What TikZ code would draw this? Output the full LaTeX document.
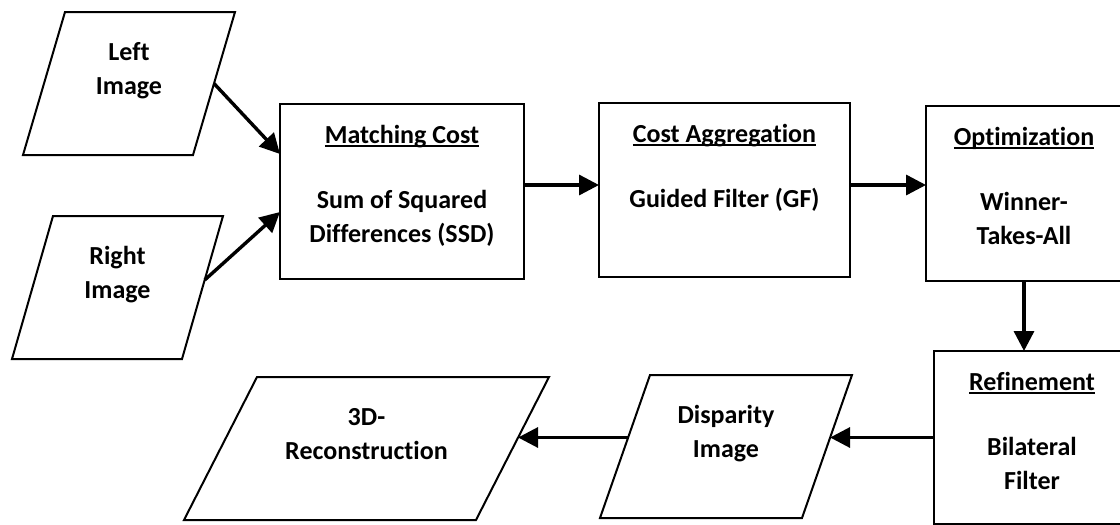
\documentclass[tikz,border=0pt]{standalone}
\usepackage{fontspec}
\setmainfont{Carlito}[Ligatures={NoCommon}]
\usetikzlibrary{arrows.meta}
\newcommand\hdline[1]{\setbox0\hbox{#1}\rlap{\rule[-4pt]{\wd0}{1.8pt}}\box0}
\begin{document}
\begin{tikzpicture}[x=1pt,y=-1pt,
  box/.style={draw, line width=2pt, rectangle, inner sep=0pt, outer sep=0pt},
  pbody/.style={rectangle, inner sep=0pt, outer sep=0pt},
  pline/.style={line width=2pt, line join=miter},
  txt/.style={anchor=north, inner sep=0pt, align=center, font=\bfseries\fontsize{26}{34}\selectfont},
  arr/.style={line width=3.4pt, -{Triangle[length=20pt,width=20pt]}}]
\useasboundingbox (0,0) rectangle (1120,525);

% process boxes
\node[box, minimum width=244pt, minimum height=175pt] (mc) at (402,191.5) {};
\node[box, minimum width=251pt, minimum height=174pt] (ca) at (724.5,190) {};
\node[box, minimum width=196pt, minimum height=175pt] (op) at (1024,193.5) {};
\node[box, minimum width=196pt, minimum height=173pt] (rf) at (1032,437.5) {};

% data parallelograms (body nodes + slanted outlines)
\node[pbody, minimum width=170pt, minimum height=143pt] (li) at (129,83.5) {};
\node[pbody, minimum width=170pt, minimum height=143pt] (ri) at (117.5,287.5) {};
\node[pbody, minimum width=202pt, minimum height=143pt] (dp) at (726,446.5) {};
\node[pbody, minimum width=292pt, minimum height=143pt] (rc) at (366.5,448.5) {};
\draw[pline] ([xshift=21pt]li.north west) -- ([xshift=21pt]li.north east) -- ([xshift=-21pt]li.south east) -- ([xshift=-21pt]li.south west) -- cycle;
\draw[pline] ([xshift=20.5pt]ri.north west) -- ([xshift=20.5pt]ri.north east) -- ([xshift=-20.5pt]ri.south east) -- ([xshift=-20.5pt]ri.south west) -- cycle;
\draw[pline] ([xshift=25pt]dp.north west) -- ([xshift=25pt]dp.north east) -- ([xshift=-25pt]dp.south east) -- ([xshift=-25pt]dp.south west) -- cycle;
\draw[pline] ([xshift=36.5pt]rc.north west) -- ([xshift=36.5pt]rc.north east) -- ([xshift=-36.5pt]rc.south east) -- ([xshift=-36.5pt]rc.south west) -- cycle;

% texts
\node[txt] (mct) at (mc.north) {\rule{0pt}{39pt}\hdline{Matching Cost}\\[31pt]Sum of Squared\\Differences (SSD)};
\node[txt] (cat) at (ca.north) {\rule{0pt}{39pt}\hdline{Cost Aggregation}\\[31pt]Guided Filter (GF)};
\node[txt] (opt) at (op.north) {\rule{0pt}{39pt}\hdline{Optimization}\\[31pt]Winner-\\Takes-All};
\node[txt] (rft) at (rf.north) {\rule{0pt}{39pt}\hdline{Refinement}\\[31pt]Bilateral\\Filter};
\node[txt] (lit) at (li.north) {\rule{0pt}{48.5pt}Left\\Image};
\node[txt] (rit) at (ri.north) {\rule{0pt}{48.5pt}Right\\Image};
\node[txt] (dpt) at (dp.north) {\rule{0pt}{48.5pt}Disparity\\Image};
\node[txt] (rct) at (rc.north) {\rule{0pt}{48.5pt}3D-\\Reconstruction};

% connectors
\coordinate (m1) at ([yshift=6.5pt]mc.east);
\coordinate (c1) at ([yshift=5pt]ca.east);
\coordinate (l1) at ([yshift=37.5pt]mc.west);
\coordinate (r1) at ([yshift=-20.5pt]mc.west);
\coordinate (r0) at ([shift={(2.2pt,7.5pt)}]ri.east);
\coordinate (d1) at (rf.west -| dp.east);
\coordinate (d2) at (rf.west -| dp.west);
\coordinate (e1) at (rf.west -| rc.east);
\draw[arr] (li.east) -- (l1);
\draw[arr] (r0) -- (r1);
\draw[arr] (m1) -- (m1 -| ca.west);
\draw[arr] (c1) -- (c1 -| op.west);
\draw[arr] (op.south) -- (op.south |- rf.north);
\draw[arr] (rf.west) -- ([xshift=3.1pt]d1);
\draw[arr] ([xshift=3.1pt]d2) -- ([xshift=5.6pt]e1);
\end{tikzpicture}
\end{document}
